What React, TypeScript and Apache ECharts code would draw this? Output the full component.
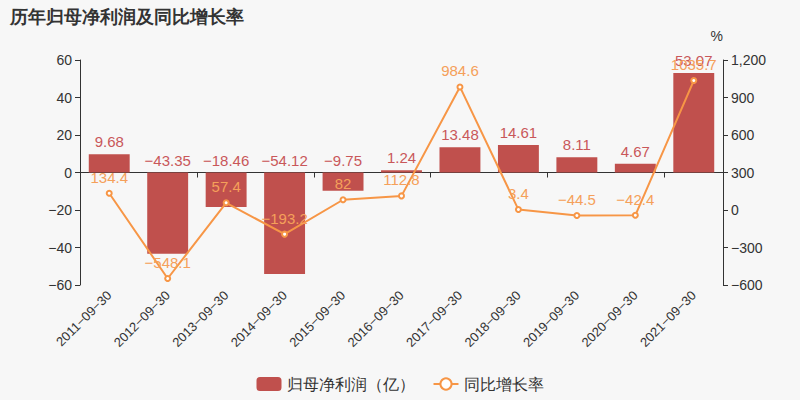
import React, { useEffect, useRef } from "react";
import * as echarts from "echarts";

const categories = [
  "2011-09-30", "2012-09-30", "2013-09-30", "2014-09-30", "2015-09-30", "2016-09-30",
  "2017-09-30", "2018-09-30", "2019-09-30", "2020-09-30", "2021-09-30",
];
const profit = [9.68, -43.35, -18.46, -54.12, -9.75, 1.24, 13.48, 14.61, 8.11, 4.67, 53.07];
const growth = [134.4, -548.1, 57.4, -193.2, 82, 112.8, 984.6, 3.4, -44.5, -42.4, 1035.7];

const BAR = "#c0504d";
const LINE = "#f79646";
const TEXT = "#333";

const minus = (s: string) => s.replace(/-/g, "\u2212");
const fmtAxis = (v: number) => {
  const abs = Math.abs(v);
  const t = abs >= 1000 ? abs.toLocaleString("en-US") : String(abs);
  return (v < 0 ? "\u2212" : "") + t;
};
const fmtLabel = (v: number) => (v < 0 ? "\u2212" : "") + String(Math.abs(v));

export default function App() {
  const ref = useRef<HTMLDivElement>(null);
  useEffect(() => {
    if (!ref.current) return;
    const chart = echarts.init(ref.current, null, { renderer: "svg" });
    chart.setOption({
      animation: false,
      backgroundColor: "#f7f7f7",
      title: {
        text: "历年归母净利润及同比增长率",
        left: 5,
        top: 3,
        textStyle: { fontSize: 18, fontWeight: "bold", color: TEXT },
      },
      legend: {
        bottom: 3,
        left: "center",
        itemWidth: 25,
        itemHeight: 14,
        itemGap: 18,
        textStyle: { fontSize: 16, color: TEXT },
        data: [
          { name: "归母净利润（亿）", icon: "roundRect" },
          { name: "同比增长率" },
        ],
      },
      grid: { left: 80, right: 77, top: 60, bottom: 115 },
      xAxis: [
        {
          type: "category",
          data: categories,
          axisLine: { onZero: true, lineStyle: { color: TEXT } },
          axisTick: { show: true, lineStyle: { color: TEXT } },
          axisLabel: { show: false },
        },
        {
          type: "category",
          data: categories,
          position: "bottom",
          axisLine: { show: false, onZero: false },
          axisTick: { show: false },
          axisLabel: {
            rotate: 45,
            fontSize: 13,
            color: TEXT,
            margin: 8,
            interval: 0,
            formatter: (v: string) => minus(v),
          },
        },
      ],
      yAxis: [
        {
          type: "value",
          min: -60,
          max: 60,
          interval: 20,
          splitLine: { show: false },
          axisLine: { show: true, lineStyle: { color: TEXT } },
          axisTick: { show: true },
          axisLabel: { fontSize: 14, color: TEXT, formatter: (v: number) => fmtAxis(v) },
        },
        {
          type: "value",
          name: "%",
          nameTextStyle: { fontSize: 14, color: TEXT, align: "right", padding: [0, 0, 2, 0] },
          min: -600,
          max: 1200,
          interval: 300,
          splitLine: { show: false },
          axisLine: { show: true, lineStyle: { color: TEXT } },
          axisTick: { show: true },
          axisLabel: { fontSize: 14, color: TEXT, formatter: (v: number) => fmtAxis(v) },
        },
      ],
      series: [
        {
          name: "归母净利润（亿）",
          type: "bar",
          xAxisIndex: 0,
          yAxisIndex: 0,
          data: profit,
          barWidth: "70%",
          itemStyle: { color: BAR },
          label: {
            show: true,
            position: "top",
            fontSize: 15,
            color: "#c9575a",
            formatter: (p: any) => fmtLabel(p.value),
          },
        },
        {
          name: "同比增长率",
          type: "line",
          xAxisIndex: 0,
          yAxisIndex: 1,
          data: growth,
          symbol: "emptyCircle",
          symbolSize: 5,
          lineStyle: { color: LINE, width: 2 },
          itemStyle: { color: LINE, borderColor: LINE },
          label: {
            show: true,
            position: "top",
            fontSize: 15,
            color: "#f5a05a",
            formatter: (p: any) => fmtLabel(p.value),
          },
        },
      ],
    });
    return () => chart.dispose();
  }, []);
  return <div ref={ref} style={{ width: 800, height: 400, position: "absolute", left: 0, top: 0 }} />;
}
